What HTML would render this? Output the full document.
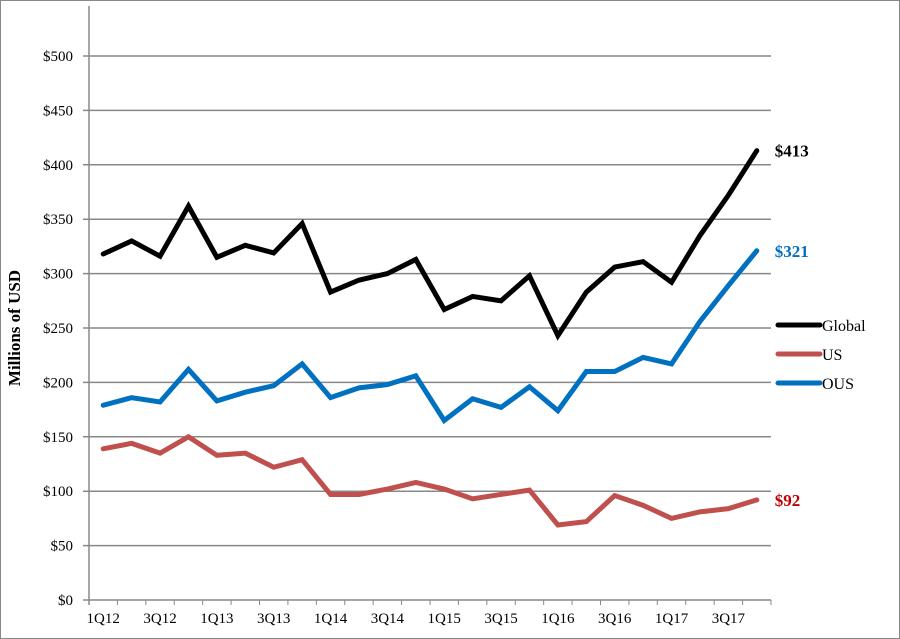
<!DOCTYPE html>
<html><head><meta charset="utf-8"><style>
html,body{margin:0;padding:0;background:#fff}
svg{display:block;font-family:"Liberation Serif",serif}
</style></head><body>
<svg id="chart" width="900" height="639">
<rect x="0.5" y="0.5" width="899" height="638" fill="#fff" stroke="#888"/>
<g id="grid"></g><g id="axes"></g><g id="series"></g>
<text x="20" y="328" transform="rotate(-90 20 328)" text-anchor="middle" font-size="17" font-weight="bold">Millions of USD</text>
<g>
<line x1="778" y1="325" x2="820" y2="325" stroke="#000" stroke-width="5" stroke-linecap="round"/>
<text x="822" y="331" font-size="16">Global</text>
<line x1="778" y1="354" x2="820" y2="354" stroke="#c0504d" stroke-width="5" stroke-linecap="round"/>
<text x="822" y="360" font-size="16">US</text>
<line x1="778" y1="383" x2="820" y2="383" stroke="#0070c0" stroke-width="5" stroke-linecap="round"/>
<text x="822" y="389" font-size="16">OUS</text>
</g>
</svg>
<script>
const categories=["1Q12","2Q12","3Q12","4Q12","1Q13","2Q13","3Q13","4Q13","1Q14","2Q14","3Q14","4Q14","1Q15","2Q15","3Q15","4Q15","1Q16","2Q16","3Q16","4Q16","1Q17","2Q17","3Q17","4Q17"];
const globalValues=[318,330,316,362,315,326,319,346,283,294,300,313,267,279,275,298,243,283,306,311,292,335,372,413];
const usValues=[139,144,135,150,133,135,122,129,97,97,102,108,102,93,97,101,69,72,96,87,75,81,84,92];
const ousValues=[179,186,182,212,183,191,197,217,186,195,198,206,165,185,177,196,174,210,210,223,217,256,289,321];
const yTicks=[0,50,100,150,200,250,300,350,400,450,500];
const endLabels=["$413","$92","$321"];
const NS="http://www.w3.org/2000/svg";
const L=89,R=771,T=56,B=600,YMAX=500;
const bw=(R-L)/categories.length;
function x(i){return L+bw*(i+0.5);}
function y(v){return B-(v/YMAX)*(B-T);}
function mk(tag,attrs,parent){const e=document.createElementNS(NS,tag);for(const k in attrs)e.setAttribute(k,attrs[k]);parent.appendChild(e);return e;}
const grid=document.getElementById('grid'),axes=document.getElementById('axes'),ser=document.getElementById('series');
yTicks.forEach(t=>{
 const g=mk('line',{x1:L-6,x2:R,y1:y(t),y2:y(t),stroke:'#888','stroke-width':t===0?1.5:1.5},grid);
 
 
 const tx=mk('text',{x:L-16,y:y(t)+5,'text-anchor':'end','font-size':15},axes);
 tx.textContent='$'+t;
 
 
});
const ya=mk('line',{x1:L,x2:L,y1:T-50,y2:B+5,stroke:'#888','stroke-width':1.5},axes);


for(let i=0;i<=categories.length;i++){
 const tk=mk('line',{x1:L+bw*i,x2:L+bw*i,y1:B,y2:B+5,stroke:'#888','stroke-width':1},axes);
 
 
}
categories.forEach((c,i)=>{
 if(i%2===0){
  const t=mk('text',{x:L+bw*i+bw/2,y:B+23,'text-anchor':'middle','font-size':15},axes);
  t.textContent=c;
  
  
 }
});
const defs=[[globalValues,'#000','global',endLabels[0]],[usValues,'#c0504d','us',endLabels[1]],[ousValues,'#0070c0','ous',endLabels[2]]];
const labelColors={global:'#000',us:'#c00000',ous:'#0070c0'};
defs.forEach(([vals,col,name,lab])=>{
 const p=mk('polyline',{points:vals.map((v,i)=>x(i)+','+y(v)).join(' '),fill:'none',stroke:col,'stroke-width':5,'stroke-linejoin':'miter','stroke-linecap':'round'},ser);
 
 
 const n=vals.length-1;
 const t=mk('text',{x:x(n)+18,y:y(vals[n])+6,'font-size':17,'font-weight':'bold',fill:labelColors[name]},ser);
 t.textContent=lab;
 
 
});
</script>
</body></html>
